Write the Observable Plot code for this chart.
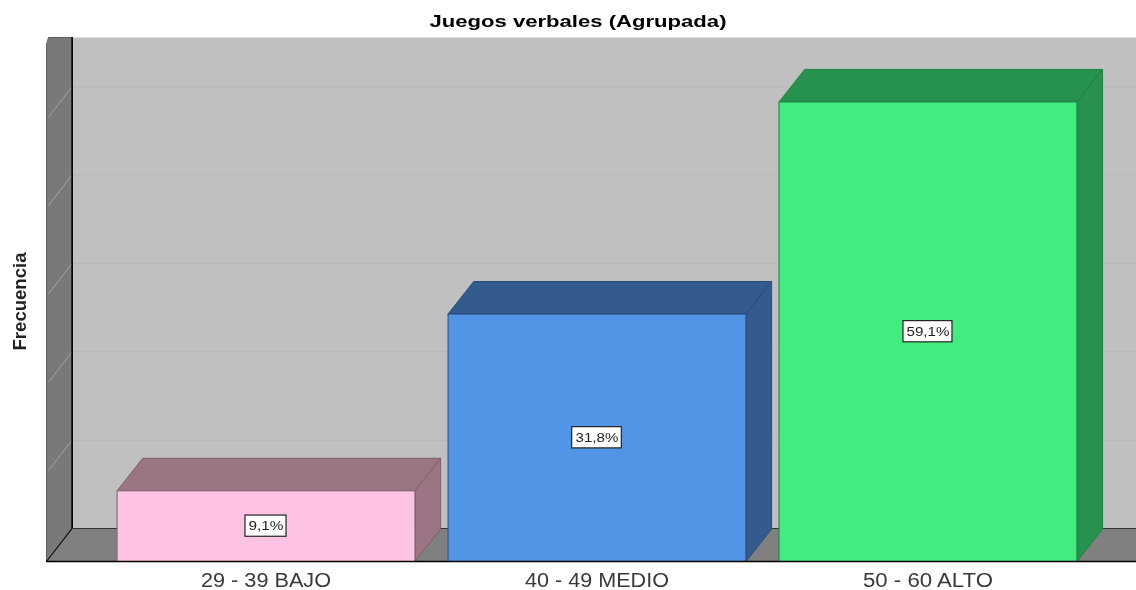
<!DOCTYPE html>
<html><head><meta charset="utf-8">
<script src="https://cdn.jsdelivr.net/npm/d3@7"></script>
<script src="https://cdn.jsdelivr.net/npm/@observablehq/plot@0.6"></script>
<style>
html,body{margin:0;padding:0;background:#fff}
svg{display:block;filter:blur(0.45px)}
</style></head><body>
<script>
const categories = ["29 - 39 BAJO", "40 - 49 MEDIO", "50 - 60 ALTO"];
const counts = [2, 7, 13];
const percents = ["9,1%", "31,8%", "59,1%"];
const frontColors = ["#fec3e3", "#5294e6", "#42ec7e"];
const shadeColors = ["#9c7585", "#335b8e", "#27914f"];
const edgeColors = ["#7d5f6c", "#2a4d78", "#1f8245"];
const gridValues = [2.5, 5, 7.5, 10, 12.5];
const titleText = "Juegos verbales (Agrupada)";
const yLabel = "Frecuencia";
const textWidths = {
  [titleText]: 297, [yLabel]: 98,
  [categories[0]]: 130, [categories[1]]: 144, [categories[2]]: 130,
  [percents[0]]: 35, [percents[1]]: 43, [percents[2]]: 43
};

const xMin = -0.6632, xMax = 2.63, yMax = 14.823;
const depthX = 0.0775, depthY = 0.92, wallDepthY = 0.934, half = 0.45;
const boxHalfW = [0.062, 0.075, 0.074], boxHalfY = 0.30;

const poly = (id, color, edge, pts) => pts.concat([pts[0]]).map(([x, y]) => ({id, color, edge, x, y}));

const wx = xMin + depthX;
const shell = poly("back", "#c0c0c0", "none", [[wx, wallDepthY], [xMax, wallDepthY], [xMax, yMax], [wx, yMax]]);
const wallFloor = [
  ...poly("wall", "#797979", "#5e5e5e", [[xMin, 0], [wx, wallDepthY], [wx, yMax], [xMin + 0.006, yMax], [xMin, yMax - 0.2]]),
  ...poly("floor", "#808080", "none", [[xMin, 0], [wx, wallDepthY], [xMax, wallDepthY], [xMax, 0]]),
];
const bars3d = counts.flatMap((c, i) => {
  const l = i - half, r = i + half;
  return [
    ...poly("top" + i, shadeColors[i], edgeColors[i], [[l, c], [r, c], [r + depthX, c + depthY], [l + depthX, c + depthY]]),
    ...poly("side" + i, shadeColors[i], edgeColors[i], [[r, 0], [r + depthX, depthY], [r + depthX, c + depthY], [r, c]]),
    ...poly("front" + i, frontColors[i], edgeColors[i], [[l, 0], [r, 0], [r, c], [l, c]]),
  ];
});
const table = counts.map((c, i) => ({i, c, mid: c / 2, label: percents[i], hw: boxHalfW[i]}));
const wallTicks = gridValues.map(v => ({v}));

const face = (pts) => Plot.line(pts, {x: "x", y: "y", z: "id", fill: "color", stroke: "edge", strokeWidth: 1, strokeLinejoin: "miter"});

const chart = Plot.plot({
  width: 1136, height: 590,
  marginLeft: 46, marginRight: 0, marginTop: 37, marginBottom: 29,
  x: {domain: [xMin, xMax], axis: null},
  y: {domain: [0, yMax], axis: null},
  color: {type: "identity"},
  style: {fontFamily: "'Liberation Sans', Arial, sans-serif", background: "#fff"},
  marks: [
    face(shell),
    Plot.ruleY(gridValues, {y: d => d + wallDepthY, x1: wx, x2: xMax, stroke: "#b8b8b8", strokeWidth: 1.2}),
    face(wallFloor),
    Plot.link(wallTicks, {x1: wx, y1: d => d.v + wallDepthY, x2: xMin + 0.006, y2: d => d.v + 0.07, stroke: "#a3a3a3", strokeWidth: 1}),
    Plot.ruleX([wx], {y1: wallDepthY, y2: yMax, stroke: "#000", strokeWidth: 1.6}),
    Plot.ruleY([wallDepthY], {x1: wx, x2: xMax, stroke: "#333", strokeWidth: 1.2}),
    Plot.link([0], {x1: xMin, y1: 0, x2: wx, y2: wallDepthY, stroke: "#111", strokeWidth: 1.2}),
    face(bars3d),
    Plot.ruleY([0], {x1: xMin, x2: xMax, stroke: "#000", strokeWidth: 1.4}),
    Plot.rect(table, {x1: d => d.i - d.hw, x2: d => d.i + d.hw, y1: d => d.mid - boxHalfY, y2: d => d.mid + boxHalfY, fill: "#fff", stroke: "#222", strokeWidth: 1.2}),
    Plot.text(table, {x: "i", y: "mid", text: "label", fontSize: 13, fill: "#222"}),
    Plot.axisX({ticks: [0, 1, 2], tickFormat: i => categories[i], tickSize: 0, tickPadding: 11, fontSize: 20, fill: "#3a3a3a", label: null}),
    Plot.text([titleText], {x: () => 0.9426, y: () => yMax, dy: -16, text: d => d, fontSize: 16.5, fontWeight: "bold", fill: "#000"}),
    Plot.text([yLabel], {x: () => xMin, y: () => 7.355, dx: -26, text: d => d, rotate: -90, fontSize: 18.5, fontWeight: "bold", fill: "#222"}),
  ]
});
d3.select(chart).selectAll("text").each(function () {
  const w = textWidths[this.textContent];
  if (w) { this.setAttribute("textLength", w); this.setAttribute("lengthAdjust", "spacingAndGlyphs"); }
});
document.body.appendChild(chart);
</script>
</body></html>
